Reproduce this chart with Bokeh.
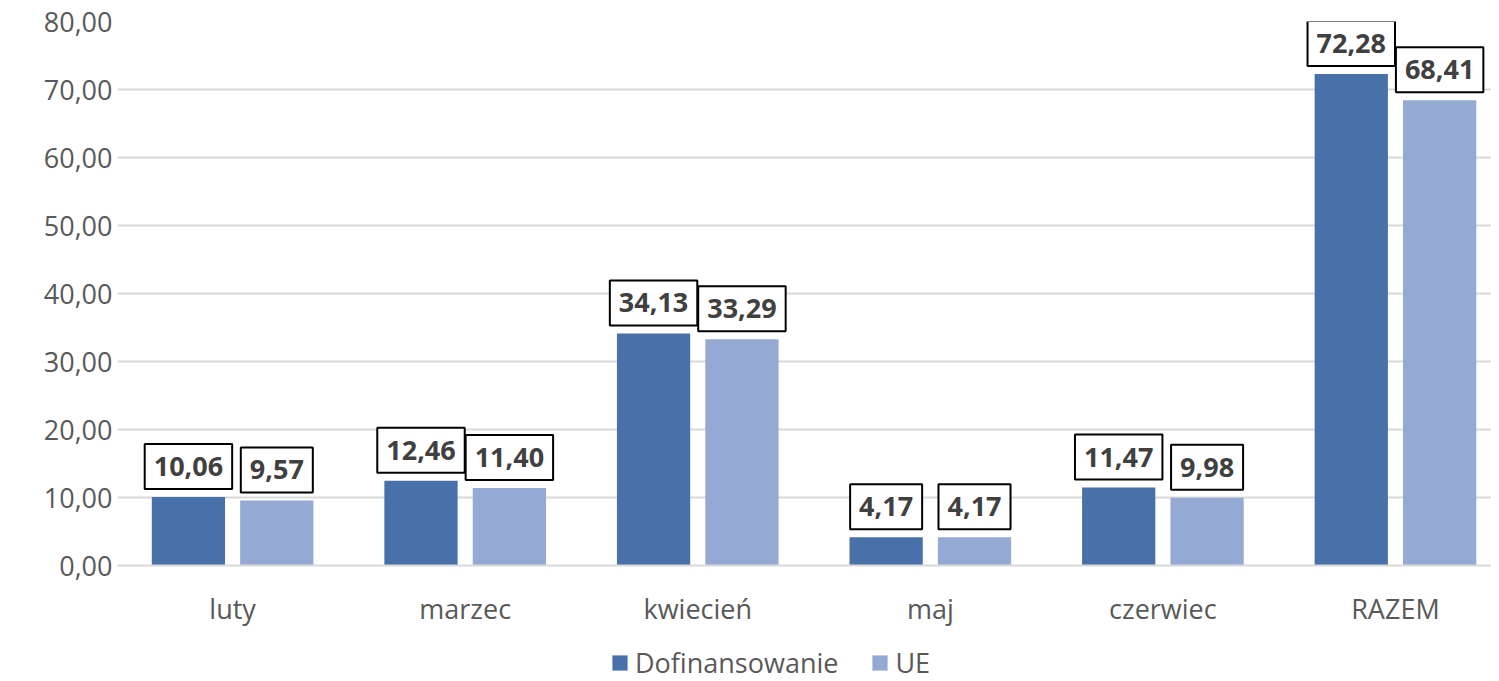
from bokeh.plotting import figure
from bokeh.layouts import column
from bokeh.models import ColumnDataSource, Range1d, FixedTicker, Legend, LegendItem
from bokeh.transform import dodge
from bokeh.core.properties import value
from bokeh.embed import file_html
from bokeh.resources import INLINE

months = ["luty", "marzec", "kwiecień", "maj", "czerwiec", "RAZEM"]
dofinansowanie = [10.06, 12.46, 34.13, 4.17, 11.47, 72.28]
ue = [9.57, 11.40, 33.29, 4.17, 9.98, 68.41]
y_ticks = [0, 10, 20, 30, 40, 50, 60, 70, 80]

def fmt(v):
    return f"{v:.2f}".replace(".", ",")

xs = list(range(len(months)))
src = ColumnDataSource(dict(
    x=xs,
    dof=dofinansowanie,
    ue=ue,
    dof_lbl=[fmt(v) for v in dofinansowanie],
    ue_lbl=[fmt(v) for v in ue],
))

FONT = "Open Sans"
TXT = "#595959"
FS = "27px"
DARK = "#4871aa"
LIGHT = "#94aad3"

p = figure(frame_width=1374, frame_height=544, output_backend="svg",
           toolbar_location=None, x_range=Range1d(-0.495, 5.413),
           y_range=Range1d(0, 80), min_border_left=117, min_border_right=0,
           min_border_top=21, min_border_bottom=70)
p.outline_line_color = None
p.background_fill_color = "white"
p.border_fill_color = "white"

r1 = p.vbar(x=dodge("x", -0.19, range=p.x_range), top="dof", width=0.315,
            source=src, fill_color=DARK, line_color=None)
r2 = p.vbar(x=dodge("x", 0.19, range=p.x_range), top="ue", width=0.315,
            source=src, fill_color=LIGHT, line_color=None)

for field, col, off in (("dof_lbl", "dof", -0.19), ("ue_lbl", "ue", 0.19)):
    p.text(x=dodge("x", off, range=p.x_range), y=col, text=field, source=src,
           text_font=value(FONT), text_font_size=FS, text_font_style="bold",
           text_color="#404040", text_align="center", text_baseline="bottom",
           y_offset=-8, padding=[9, 13], border_line_color="black",
           border_line_width=2, background_fill_color="white")

p.xgrid.grid_line_color = None
p.ygrid.grid_line_color = "#d9d9d9"
p.ygrid.grid_line_width = 2
p.ygrid.ticker = FixedTicker(ticks=y_ticks)

p.yaxis.ticker = FixedTicker(ticks=y_ticks)
p.yaxis.major_label_overrides = {t: fmt(t) for t in y_ticks}
p.yaxis.axis_line_color = None
p.yaxis.major_tick_line_color = None
p.yaxis.minor_tick_line_color = None
p.yaxis.major_tick_out = 0
p.yaxis.major_label_standoff = 5
p.yaxis.major_label_text_font = FONT
p.yaxis.major_label_text_font_size = FS
p.yaxis.major_label_text_color = TXT

p.xaxis.ticker = FixedTicker(ticks=xs)
p.xaxis.major_label_overrides = {i: m for i, m in enumerate(months)}
p.xaxis.axis_line_color = "#d9d9d9"
p.xaxis.axis_line_width = 2
p.xaxis.major_tick_line_color = None
p.xaxis.minor_tick_line_color = None
p.xaxis.major_tick_out = 0
p.xaxis.major_label_standoff = 24
p.xaxis.major_label_text_font = FONT
p.xaxis.major_label_text_font_size = FS
p.xaxis.major_label_text_color = TXT

# Legend strip (its swatch renderers are hidden; only the legend shows)
lg = figure(frame_width=1374, frame_height=46, output_backend="svg",
            toolbar_location=None, x_range=Range1d(100, 101),
            y_range=Range1d(1000, 1001), x_axis_location=None,
            y_axis_location=None, min_border_left=117, min_border_right=0,
            min_border_top=0, min_border_bottom=0)
lg.outline_line_color = None
lg.grid.visible = False
l1 = lg.vbar(x="x", top="dof", width=0.315, source=src, fill_color=DARK, line_color=None)
l2 = lg.vbar(x="x", top="ue", width=0.315, source=src, fill_color=LIGHT, line_color=None)
l1.visible = False
l2.visible = False
legend = Legend(items=[LegendItem(label="Dofinansowanie", renderers=[l1]),
                       LegendItem(label="UE", renderers=[l2])],
                orientation="horizontal", location=(493, 0),
                label_text_font=FONT, label_text_font_size=FS,
                label_text_color=TXT, glyph_width=19, glyph_height=19,
                spacing=32, padding=0, margin=0, border_line_color=None,
                background_fill_alpha=0, label_standoff=6)
lg.add_layout(legend, "center")

layout = column(p, lg, spacing=0)
open("out.html", "w").write(file_html(layout, INLINE))
